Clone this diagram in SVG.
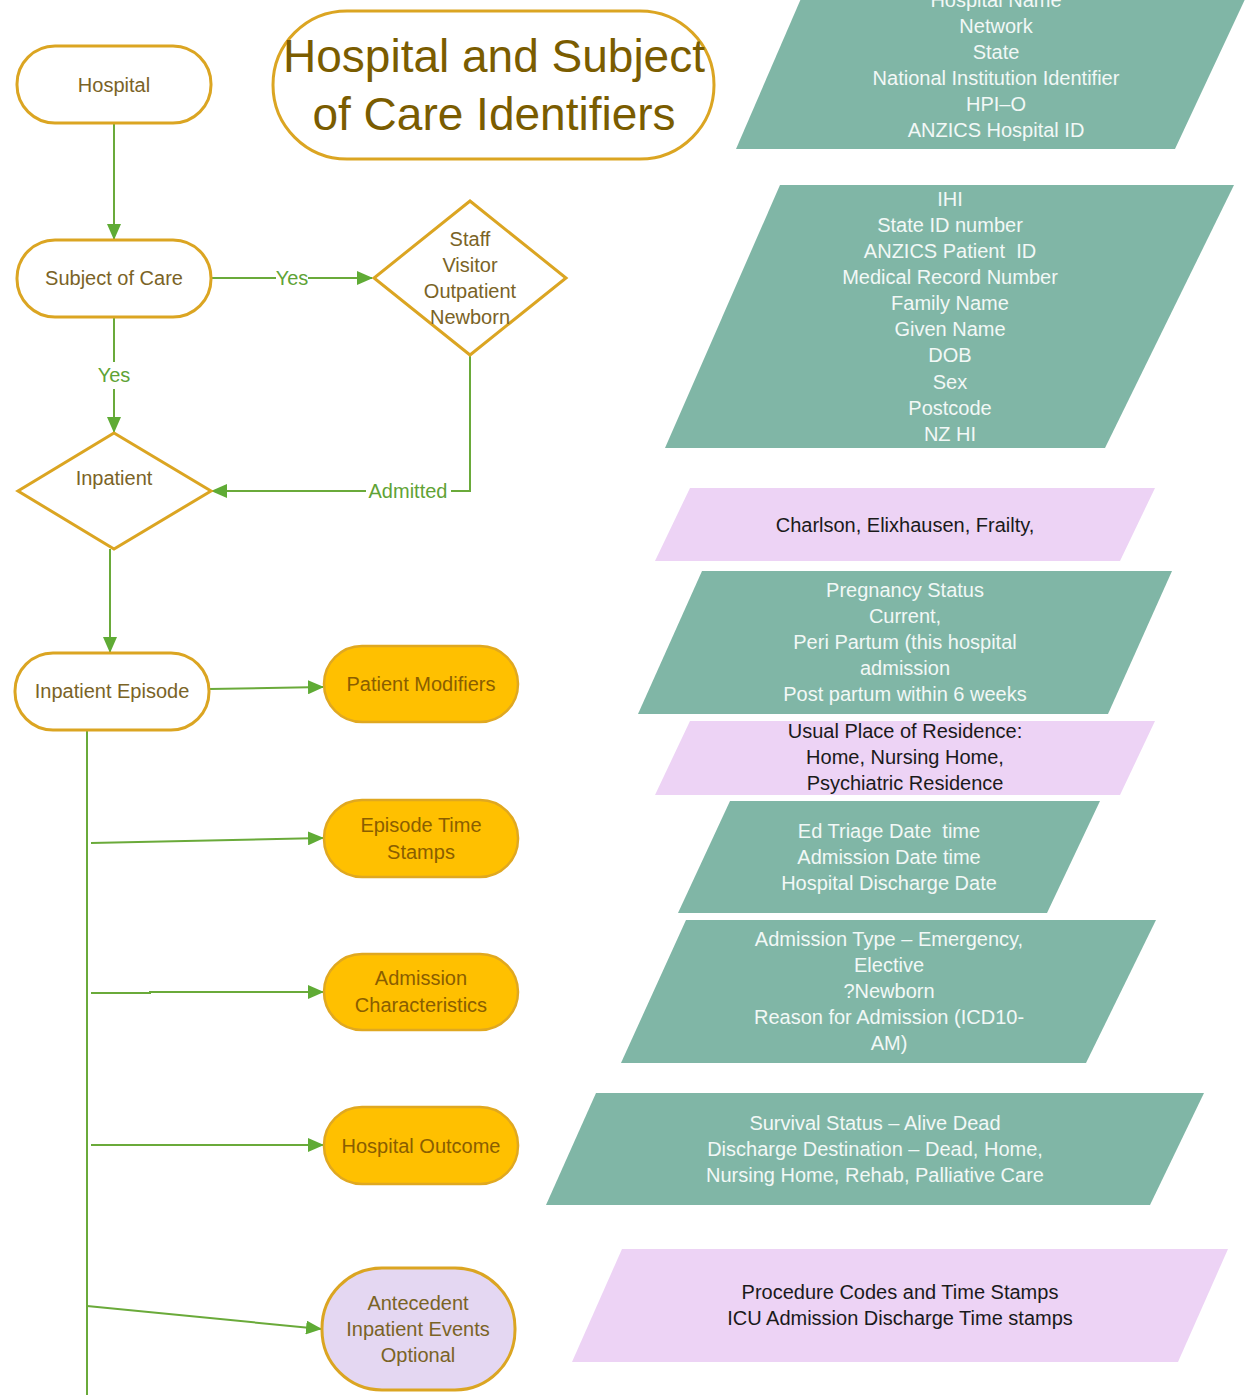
<svg xmlns="http://www.w3.org/2000/svg" width="1245" height="1395" viewBox="0 0 1245 1395">
<style>
.term{fill:#ffffff;stroke:#dba522;stroke-width:3}
.dec{fill:#ffffff;stroke:#dba522;stroke-width:3}
.mod{fill:#ffc000;stroke:#e0a820;stroke-width:2.5}
.opt{fill:#e4d7f2;stroke:#dba522;stroke-width:3}
.teal{fill:#80b6a6}
.pink{fill:#edd3f5}
.t{font-family:"Liberation Sans",Arial,sans-serif;font-size:20px;text-anchor:middle}
.nt{fill:#7a6326}
.mt{fill:#8a5e00}
.wt{fill:#f2f8f6}
.bt{fill:#1a1a1a}
.lbl{fill:#5fa336}
.title{font-family:"Liberation Sans",Arial,sans-serif;font-size:46px;text-anchor:middle;fill:#7a5c00}
.c{fill:none;stroke:#6aaa3a;stroke-width:2}
</style>
<defs>
<marker id="ah" markerWidth="16" markerHeight="14" refX="15" refY="7" orient="auto" markerUnits="userSpaceOnUse">
<path d="M0,0 L16,7 L0,14 Z" fill="#5fab35"/>
</marker>
</defs>
<rect width="1245" height="1395" fill="#ffffff"/>

<g id="data-hospital">
<polygon class="teal" points="809,-20 1254,-20 1175,149 736,149"/>
<text class="t wt" x="996" y="7">Hospital Name</text>
<text class="t wt" x="996" y="33">Network</text>
<text class="t wt" x="996" y="59">State</text>
<text class="t wt" x="996" y="85">National Institution Identifier</text>
<text class="t wt" x="996" y="111">HPI–O</text>
<text class="t wt" x="996" y="137">ANZICS Hospital ID</text>
</g>
<g id="data-subject">
<polygon class="teal" points="780,185 1234,185 1105,448 665,448"/>
<text class="t wt" x="950" y="206">IHI</text>
<text class="t wt" x="950" y="232">State ID number</text>
<text class="t wt" x="950" y="258" xml:space="preserve">ANZICS Patient  ID</text>
<text class="t wt" x="950" y="284">Medical Record Number</text>
<text class="t wt" x="950" y="310">Family Name</text>
<text class="t wt" x="950" y="336">Given Name</text>
<text class="t wt" x="950" y="362">DOB</text>
<text class="t wt" x="950" y="389">Sex</text>
<text class="t wt" x="950" y="415">Postcode</text>
<text class="t wt" x="950" y="441">NZ HI</text>
</g>
<g id="data-comorbid">
<polygon class="pink" points="690,488 1155,488 1120,561 655,561"/>
<text class="t bt" x="905" y="532">Charlson, Elixhausen, Frailty,</text>
</g>
<g id="data-pregnancy">
<polygon class="teal" points="702,571 1172,571 1108,714 638,714"/>
<text class="t wt" x="905" y="597">Pregnancy Status</text>
<text class="t wt" x="905" y="623">Current,</text>
<text class="t wt" x="905" y="649">Peri Partum (this hospital</text>
<text class="t wt" x="905" y="675">admission</text>
<text class="t wt" x="905" y="701">Post partum within 6 weeks</text>
</g>
<g id="data-residence">
<polygon class="pink" points="690,721 1155,721 1120,795 655,795"/>
<text class="t bt" x="905" y="738">Usual Place of Residence:</text>
<text class="t bt" x="905" y="764">Home, Nursing Home,</text>
<text class="t bt" x="905" y="790">Psychiatric Residence</text>
</g>
<g id="data-times">
<polygon class="teal" points="730,801 1100,801 1047,913 678,913"/>
<text class="t wt" x="889" y="838" xml:space="preserve">Ed Triage Date  time</text>
<text class="t wt" x="889" y="864">Admission Date time</text>
<text class="t wt" x="889" y="890">Hospital Discharge Date</text>
</g>
<g id="data-admission">
<polygon class="teal" points="686,920 1156,920 1086,1063 621,1063"/>
<text class="t wt" x="889" y="946">Admission Type – Emergency,</text>
<text class="t wt" x="889" y="972">Elective</text>
<text class="t wt" x="889" y="998">?Newborn</text>
<text class="t wt" x="889" y="1024">Reason for Admission (ICD10-</text>
<text class="t wt" x="889" y="1050">AM)</text>
</g>
<g id="data-outcome">
<polygon class="teal" points="596,1093 1204,1093 1150,1205 546,1205"/>
<text class="t wt" x="875" y="1130">Survival Status – Alive Dead</text>
<text class="t wt" x="875" y="1156">Discharge Destination – Dead, Home,</text>
<text class="t wt" x="875" y="1182">Nursing Home, Rehab, Palliative Care</text>
</g>
<g id="data-procedures">
<polygon class="pink" points="622,1249 1228,1249 1178,1362 572,1362"/>
<text class="t bt" x="900" y="1299">Procedure Codes and Time Stamps</text>
<text class="t bt" x="900" y="1325">ICU Admission Discharge Time stamps</text>
</g>

<g id="connectors">
<line class="c" x1="114" y1="124" x2="114" y2="239" marker-end="url(#ah)"/>
<path class="c" d="M211,278 H276 M308,278 H372" marker-end="url(#ah)"/>
<text class="t lbl" x="292" y="285">Yes</text>
<path class="c" d="M114,318 V362 M114,389 V432" marker-end="url(#ah)"/>
<text class="t lbl" x="114" y="382">Yes</text>
<path class="c" d="M470,355 V491 H451 M366,491 H212" marker-end="url(#ah)"/>
<text class="t lbl" x="408" y="498">Admitted</text>
<line class="c" x1="110" y1="549" x2="110" y2="652" marker-end="url(#ah)"/>
<line class="c" x1="209" y1="689" x2="323" y2="687" marker-end="url(#ah)"/>
<line class="c" x1="87" y1="730" x2="87" y2="1395"/>
<line class="c" x1="91" y1="843" x2="323" y2="838" marker-end="url(#ah)"/>
<path class="c" d="M91,993 H150 V992 H323" marker-end="url(#ah)"/>
<line class="c" x1="91" y1="1145" x2="323" y2="1145" marker-end="url(#ah)"/>
<line class="c" x1="87" y1="1306" x2="321" y2="1329" marker-end="url(#ah)"/>
</g>

<g id="title">
<rect class="term" x="273" y="11" width="441" height="148" rx="74"/>
<text class="title" x="494" y="72">Hospital and Subject</text>
<text class="title" x="494" y="130">of Care Identifiers</text>
</g>
<g id="hospital">
<rect class="term" x="17" y="46" width="194" height="77" rx="38"/>
<text class="t nt" x="114" y="92">Hospital</text>
</g>
<g id="subject-of-care">
<rect class="term" x="17" y="240" width="194" height="77" rx="38"/>
<text class="t nt" x="114" y="285">Subject of Care</text>
</g>
<g id="staff-visitor">
<polygon class="dec" points="470,201 566,278 470,355 374,278"/>
<text class="t nt" x="470" y="246">Staff</text>
<text class="t nt" x="470" y="272">Visitor</text>
<text class="t nt" x="470" y="298">Outpatient</text>
<text class="t nt" x="470" y="324">Newborn</text>
</g>
<g id="inpatient">
<polygon class="dec" points="114,433 211,491 114,549 18,491"/>
<text class="t nt" x="114" y="485">Inpatient</text>
</g>
<g id="inpatient-episode">
<rect class="term" x="15" y="653" width="194" height="77" rx="38"/>
<text class="t nt" x="112" y="698">Inpatient Episode</text>
</g>
<g id="patient-modifiers">
<rect class="mod" x="324" y="646" width="194" height="76" rx="38"/>
<text class="t mt" x="421" y="691">Patient Modifiers</text>
</g>
<g id="episode-time-stamps">
<rect class="mod" x="324" y="800" width="194" height="77" rx="38"/>
<text class="t mt" x="421" y="832">Episode Time</text>
<text class="t mt" x="421" y="859">Stamps</text>
</g>
<g id="admission-characteristics">
<rect class="mod" x="324" y="954" width="194" height="76" rx="38"/>
<text class="t mt" x="421" y="985">Admission</text>
<text class="t mt" x="421" y="1012">Characteristics</text>
</g>
<g id="hospital-outcome">
<rect class="mod" x="324" y="1107" width="194" height="77" rx="38"/>
<text class="t mt" x="421" y="1153">Hospital Outcome</text>
</g>
<g id="antecedent">
<rect class="opt" x="322" y="1268" width="193" height="122" rx="60"/>
<text class="t nt" x="418" y="1310">Antecedent</text>
<text class="t nt" x="418" y="1336">Inpatient Events</text>
<text class="t nt" x="418" y="1362">Optional</text>
</g>
</svg>
